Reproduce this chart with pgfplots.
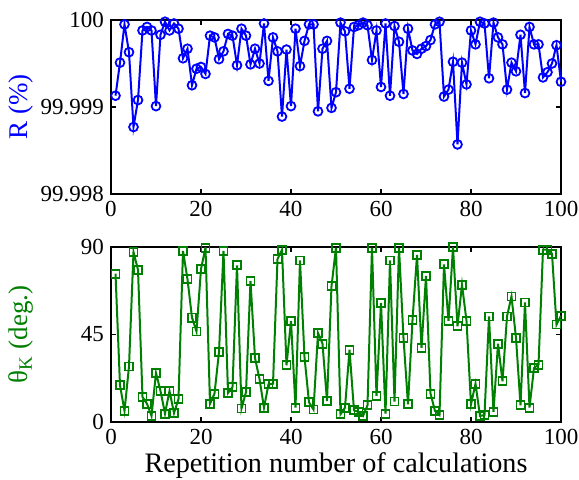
\documentclass[border=0pt]{standalone}
\usepackage{fontspec}
\setmainfont{Liberation Serif}
\usepackage{pgfplots}
\usepackage{pgfplotstable}
\pgfplotsset{compat=1.18}

\definecolor{mgreen}{RGB}{0,128,0}

% R - 100, in units of 0.001 %
\pgfplotstableread{
n dR
1 -0.87
2 -0.49
3 -0.05
4 -0.37
5 -1.23
6 -0.92
7 -0.12
8 -0.08
9 -0.12
10 -0.99
11 -0.17
12 -0.02
13 -0.12
14 -0.04
15 -0.10
16 -0.44
17 -0.33
18 -0.75
19 -0.56
20 -0.54
21 -0.62
22 -0.18
23 -0.20
24 -0.45
25 -0.36
26 -0.16
27 -0.18
28 -0.52
29 -0.10
30 -0.18
31 -0.51
32 -0.33
33 -0.50
34 -0.04
35 -0.70
36 -0.20
37 -0.36
38 -1.11
39 -0.34
40 -0.99
41 -0.10
42 -0.53
43 -0.24
44 -0.05
45 -0.05
46 -1.05
47 -0.33
48 -0.24
49 -1.01
50 -0.83
51 -0.03
52 -0.13
53 -0.79
54 -0.08
55 -0.06
56 -0.03
57 -0.06
58 -0.46
59 -0.12
60 -0.77
61 -0.04
62 -0.87
63 -0.07
64 -0.25
65 -0.85
66 -0.10
67 -0.35
68 -0.39
69 -0.33
70 -0.30
71 -0.23
72 -0.05
73 -0.02
74 -0.88
75 -0.80
76 -0.48
77 -1.43
78 -0.49
79 -0.74
80 -0.12
81 -0.28
82 -0.02
83 -0.04
84 -0.67
85 -0.03
86 -0.20
87 -0.28
88 -0.80
89 -0.49
90 -0.59
91 -0.17
92 -0.84
93 -0.08
94 -0.28
95 -0.28
96 -0.66
97 -0.60
98 -0.50
99 -0.29
100 -0.71
}\Rtable

\pgfplotstableread{
n theta
1 76.3
2 18.9
3 5.7
4 28.6
5 87.4
6 78.3
7 12.9
8 9.4
9 3.1
10 25.2
11 16.0
12 4.3
13 16.0
14 4.6
15 11.8
16 88.0
17 73.4
18 53.7
19 46.6
20 78.7
21 89.7
22 9.4
23 14.6
24 36.0
25 88.0
26 14.9
27 18.0
28 80.6
29 6.9
30 15.4
31 72.5
32 32.9
33 22.1
34 7.4
35 19.4
36 19.7
37 83.8
38 88.6
39 29.2
40 52.0
41 7.4
42 83.1
43 33.4
44 10.1
45 6.4
46 45.8
47 40.3
48 10.8
49 69.8
50 89.7
51 4.0
52 7.4
53 37.2
54 6.0
55 5.2
56 3.1
57 8.6
58 89.7
59 13.4
60 61.2
61 4.3
62 83.1
63 10.5
64 89.7
65 43.2
66 9.1
67 52.3
68 85.9
69 38.2
70 75.1
71 14.6
72 5.7
73 3.6
74 81.1
75 52.0
76 90.0
77 49.2
78 70.6
79 52.0
80 9.1
81 19.7
82 3.1
83 3.6
84 54.3
85 5.2
86 40.3
87 20.9
88 54.3
89 64.6
90 43.2
91 8.6
92 61.5
93 7.4
94 27.8
95 29.5
96 88.6
97 88.6
98 86.6
99 50.1
100 54.7
}\Ttable

\pgfplotsset{
  panel/.style={
    scale only axis,
    width=225pt,
    anchor=south west,
    xmin=0, xmax=100,
    xtick={0,20,...,100},
    tick align=inside,
    major tick length=2.5pt,
    axis line style={line width=0.7pt},
    every tick/.style={black, line width=0.6pt},
    tick label style={font=\fontsize{11.5}{13}\selectfont},
    /pgf/number format/assume math mode=true,
    ylabel style={at={(axis description cs:-0.2,0.5)}, anchor=center,
      font=\fontsize{13.5}{15}\selectfont},
  },
}

\begin{document}
\begin{tikzpicture}
\useasboundingbox (0,0) rectangle (289.5pt,239.5pt);

\begin{axis}[panel,
    at={(55.5pt,142.5pt)},
    height=87pt,
    ymin=-2, ymax=0,
    ytick={-2,-1,0},
    yticklabels={99.998,99.999,100},
    ylabel={R (\%)},
    ylabel style={blue},
]
\addplot[blue, line width=1pt, mark=o, mark size=2.2pt,
  mark options={line width=0.9pt}] table[x=n, y=dR] {\Rtable};
\end{axis}

\begin{axis}[panel,
    at={(55.5pt,28.5pt)},
    height=87.5pt,
    ymin=0, ymax=90,
    ytick={0,45,90},
    ylabel={θ\textsubscript{K} (deg.)},
    ylabel style={mgreen},
    xlabel={Repetition number of calculations},
    xlabel style={at={(axis description cs:0.5,-0.25)}, anchor=center,
      font=\fontsize{14.1}{16}\selectfont},
]
\addplot[mgreen, line width=1pt, mark=square, mark size=2pt,
  mark options={line width=0.9pt}] table[x=n, y=theta] {\Ttable};
\end{axis}
\end{tikzpicture}
\end{document}
